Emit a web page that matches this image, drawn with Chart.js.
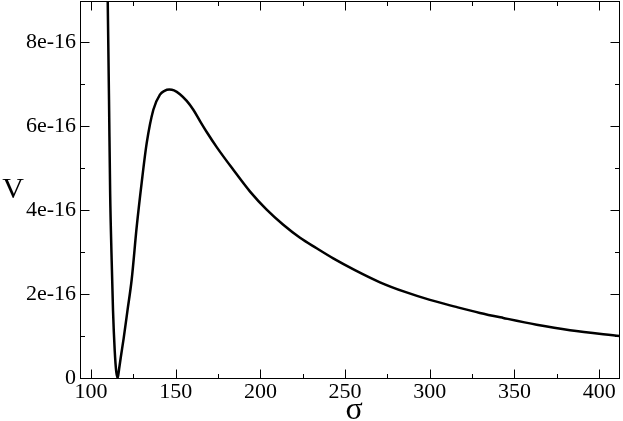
<!DOCTYPE html>
<html><head><meta charset="utf-8">
<script src="https://cdn.jsdelivr.net/npm/chart.js@4.4.1/dist/chart.umd.min.js"></script>
<style>html,body{margin:0;padding:0;background:#fff}#wrap{width:623px;height:421px}canvas{display:block}</style>
</head><body><div id="wrap"><canvas id="c" width="623" height="421"></canvas></div>
<script>
// sigma values (x)
const sigma = [109.4, 109.86, 110.63, 111.3, 112.2, 113.0, 114.0, 114.9, 115.76, 116.6, 117.6, 119.3, 121.5, 124.0, 127.0, 129.9, 132.9, 136.8, 140.7, 143.4, 146.2, 149.0, 152.5, 156.5, 160.4, 164.35, 168.3, 174.2, 184.0, 193.9, 203.7, 213.5, 223.4, 233.2, 243.0, 255.8, 270.6, 285.4, 300.1, 314.9, 329.6, 343.4, 363.1, 382.8, 412.3];
// potential V (y)
const potential = [10.5e-16, 9.0e-16, 6.63e-16, 4.4e-16, 2.8e-16, 1.6e-16, 0.65e-16, 0.15e-16, 0.0, 0.22e-16, 0.5e-16, 0.95e-16, 1.6e-16, 2.34e-16, 3.61e-16, 4.65e-16, 5.6e-16, 6.39e-16, 6.75e-16, 6.84e-16, 6.87e-16, 6.85e-16, 6.76e-16, 6.6e-16, 6.39e-16, 6.12e-16, 5.86e-16, 5.50e-16, 4.96e-16, 4.44e-16, 4.01e-16, 3.65e-16, 3.34e-16, 3.09e-16, 2.85e-16, 2.57e-16, 2.28e-16, 2.05e-16, 1.86e-16, 1.70e-16, 1.55e-16, 1.43e-16, 1.27e-16, 1.14e-16, 1.0e-16];

const xMajorTicks = [100, 150, 200, 250, 300, 350, 400];
const xMinorTicks = [125, 175, 225, 275, 325, 375];
const yMajorTicks = [0, 2e-16, 4e-16, 6e-16, 8e-16];
const yMinorTicks = [1e-16, 3e-16, 5e-16, 7e-16];
const yTickLabels = ['0', '2e-16', '4e-16', '6e-16', '8e-16'];
const xTitle = 'σ';
const yTitle = 'V';

const SERIF = "'Liberation Serif', 'DejaVu Serif', serif";

const framePlugin = {
  id: 'frame',
  afterDraw(chart) {
    const ctx = chart.ctx, a = chart.chartArea;
    const xs = chart.scales.x, ys = chart.scales.y;
    ctx.save();
    ctx.strokeStyle = '#000';
    ctx.lineWidth = 1;
    const L = Math.round(a.left) + 0.5, R = Math.round(a.right) - 0.5;
    const T = Math.round(a.top) + 0.5, B = Math.round(a.bottom) + 0.5;
    ctx.strokeRect(L, T, R - L, B - T);
    ctx.beginPath();
    const maj = 9, min = 4.5;
    xMajorTicks.forEach(v => { const p = Math.round(xs.getPixelForValue(v)) + 0.5;
      ctx.moveTo(p, B); ctx.lineTo(p, B - maj); ctx.moveTo(p, T); ctx.lineTo(p, T + maj); });
    xMinorTicks.forEach(v => { const p = Math.round(xs.getPixelForValue(v)) + 0.5;
      ctx.moveTo(p, B); ctx.lineTo(p, B - min); ctx.moveTo(p, T); ctx.lineTo(p, T + min); });
    yMajorTicks.forEach(v => { const p = Math.round(ys.getPixelForValue(v)) + 0.5;
      ctx.moveTo(L, p); ctx.lineTo(L + maj, p); ctx.moveTo(R, p); ctx.lineTo(R - maj, p); });
    yMinorTicks.forEach(v => { const p = Math.round(ys.getPixelForValue(v)) + 0.5;
      ctx.moveTo(L, p); ctx.lineTo(L + min, p); ctx.moveTo(R, p); ctx.lineTo(R - min, p); });
    ctx.stroke();
    // axis titles
    ctx.fillStyle = '#000';
    ctx.textAlign = 'center';
    ctx.textBaseline = 'middle';
    ctx.font = '30px ' + SERIF;
    ctx.fillText(yTitle, 13, 190);
    ctx.textBaseline = 'alphabetic';
    ctx.font = '32px ' + SERIF;
    ctx.fillText(xTitle, 354, 419);
    ctx.restore();
  }
};

new Chart(document.getElementById('c'), {
  type: 'line',
  data: {
    datasets: [{
      data: sigma.map((s, i) => ({ x: s, y: potential[i] })),
      borderColor: '#000',
      borderWidth: 2.5,
      pointRadius: 0,
      fill: false,
      cubicInterpolationMode: 'monotone'
    }]
  },
  options: {
    responsive: false,
    animation: false,
    events: [],
    layout: { padding: { top: 1, right: 3, left: 0, bottom: 0 } },
    plugins: { legend: { display: false }, tooltip: { enabled: false } },
    scales: {
      x: {
        type: 'linear', min: 93.5, max: 412.3,
        grid: { display: false, drawTicks: false },
        border: { display: false },
        afterBuildTicks: s => { s.ticks = xMajorTicks.map(v => ({ value: v })); },
        afterFit: s => { s.height = 43; s.paddingLeft = 0; s.paddingRight = 0; },
        ticks: { autoSkip: false, maxRotation: 0, padding: 1, color: '#000',
          font: { family: SERIF, size: 22 },
          callback: v => String(v) }
      },
      y: {
        type: 'linear', min: 0, max: 8.98e-16,
        grid: { display: false, drawTicks: false },
        border: { display: false },
        afterBuildTicks: s => { s.ticks = yMajorTicks.map(v => ({ value: v })); },
        afterFit: s => { s.width = 80; s.paddingTop = 0; s.paddingBottom = 0; },
        ticks: { autoSkip: false, padding: 4, color: '#000',
          font: { family: SERIF, size: 22 },
          callback: (v, i) => yTickLabels[i] }
      }
    }
  },
  plugins: [framePlugin]
});
</script>
</body></html>
